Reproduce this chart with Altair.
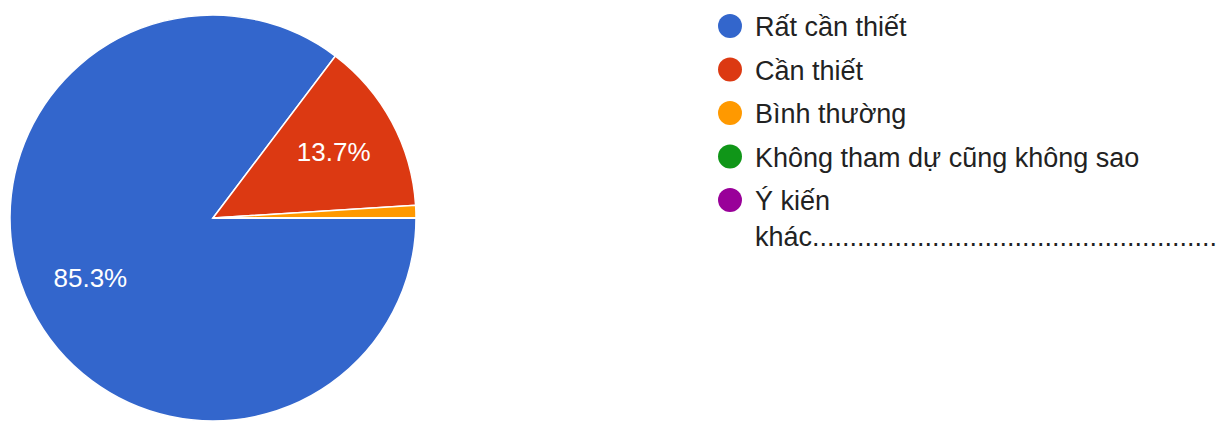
import math
import altair as alt
import pandas as pd

categories = ["Rất cần thiết", "Cần thiết", "Bình thường", "Không tham dự cũng không sao",
              "Ý kiến\nkhác......................................................"]
values = [85.3, 13.7, 1.0, 0.0, 0.0]
labels = ["85.3%", "13.7%", "", "", ""]
colors = ["#3366cc", "#dc3912", "#ff9900", "#109618", "#990099"]

df = pd.DataFrame({
    "idx": list(range(len(categories))),
    "category": categories,
    "value": values,
    "label": labels,
})

FONT = "Liberation Sans"
cx, cy = 205, 210

theta = alt.Theta("value:Q", stack=True,
                  scale=alt.Scale(range=[math.pi / 2, math.pi / 2 + 2 * math.pi]))
color = alt.Color("category:N", scale=alt.Scale(domain=categories, range=colors), legend=None)

base = alt.Chart(df)

pie = base.mark_arc(outerRadius=203, stroke="white", strokeWidth=1.5).encode(
    theta=theta, color=color, order=alt.Order("idx:Q"),
    x=alt.value(cx), y=alt.value(cy),
)

pct = base.mark_text(radius=137, font=FONT, fontSize=26, color="white",
                     align="center", baseline="middle").encode(
    theta=theta, text="label:N", order=alt.Order("idx:Q"),
    x=alt.value(cx), y=alt.value(cy),
)

ly = alt.Y("idx:Q", scale=alt.Scale(domain=[0, 4], range=[18, 192]), axis=None)

dots = base.mark_circle(size=573, opacity=1).encode(
    x=alt.value(722), y=ly, color=color,
)

txt = base.mark_text(font=FONT, fontSize=27, color="#222222", align="left",
                     baseline="alphabetic", dy=10, lineBreak="\n", lineHeight=36).encode(
    x=alt.value(747), y=ly, text="category:N",
)

chart = alt.layer(pie, pct, dots, txt).properties(
    width=1214, height=413, padding=0,
    autosize=alt.AutoSizeParams(type="none"),
).configure_view(stroke=None)

chart.save("out.html", embed_options={"renderer": "svg", "actions": False})
